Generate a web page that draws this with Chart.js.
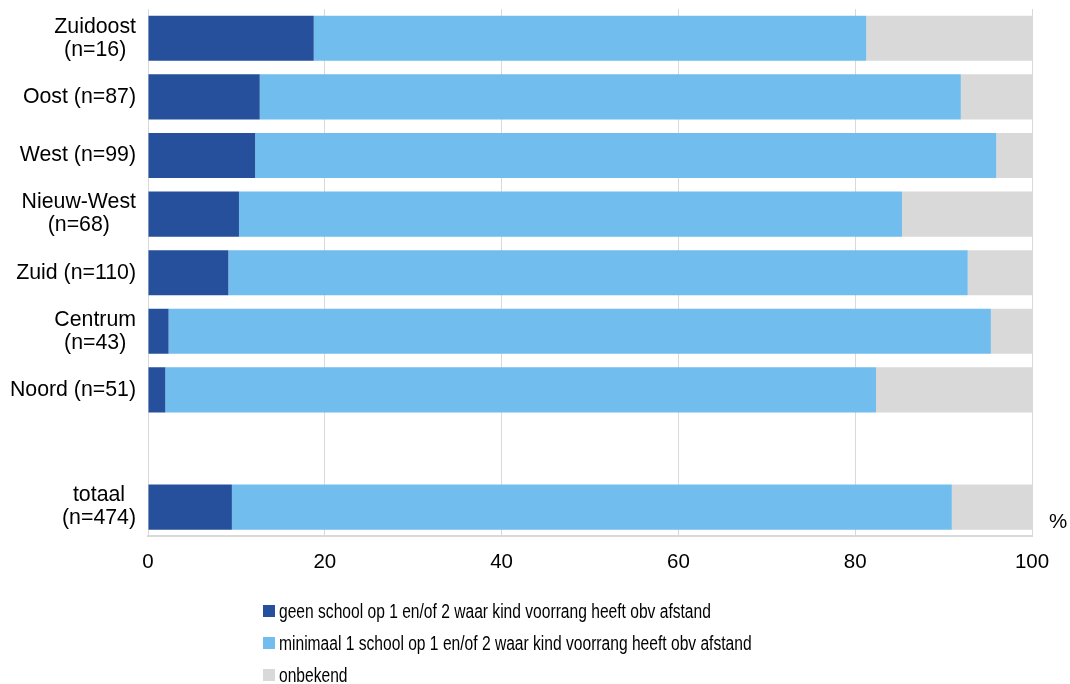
<!DOCTYPE html>
<html lang="nl">
<head>
<meta charset="UTF-8">
<title>Voorrang obv afstand per stadsdeel</title>
<script src="https://cdn.jsdelivr.net/npm/chart.js"></script>
<style>
  body { margin: 0; background: #fff; }
  #wrap { position: relative; width: 1070px; height: 684px; }
  #legend { position: absolute; left: 263px; top: 595px; font-family: 'Liberation Sans', Arial, sans-serif; font-size: 20px; color: #000; }
  .item { height: 32px; display: flex; align-items: center; white-space: nowrap; }
  .box { width: 12px; height: 12px; margin-right: 4px; flex: none; }
  .txt { display: inline-block; transform: scaleX(0.78); transform-origin: left center; }
</style>
</head>
<body>
<div id="wrap">
  <canvas id="chart" width="1070" height="684"></canvas>
  <div id="legend"></div>
</div>
<script>
// stadsdelen, lege regel tussen Noord en totaal
const categories = [
  ['Zuidoost', '(n=16)'],
  ['Oost (n=87)'],
  ['West (n=99)'],
  ['Nieuw-West', '(n=68)'],
  ['Zuid (n=110)'],
  ['Centrum', '(n=43)'],
  ['Noord (n=51)'],
  [''],
  ['totaal', '(n=474)']
];
const geenSchool = [18.75, 12.64, 12.12, 10.29, 9.09, 2.33, 1.96, null, 9.49];
const minimaal1 = [62.5, 79.31, 83.84, 75.0, 83.64, 93.02, 80.39, null, 81.44];
const onbekend = [18.75, 8.05, 4.04, 14.71, 7.27, 4.65, 17.65, null, 9.07];
const seriesNames = [
  'geen school op 1 en/of 2 waar kind voorrang heeft obv afstand',
  'minimaal 1 school op 1 en/of 2 waar kind voorrang heeft obv afstand',
  'onbekend'
];
const seriesColors = ['#26509B', '#71BDED', '#D9D9D9'];
const xTicks = [0, 20, 40, 60, 80, 100];

const FONT = "'Liberation Sans', Arial, sans-serif";

// y labels: block right aligned, lines centred within the block
const yLabelPlugin = {
  id: 'yLabels',
  afterDraw(chart) {
    const ctx = chart.ctx;
    const y = chart.scales.y;
    ctx.save();
    ctx.font = '21.3px ' + FONT;
    ctx.fillStyle = '#000';
    ctx.textAlign = 'center';
    ctx.textBaseline = 'middle';
    const right = 136, lh = 23;
    categories.forEach((lines, i) => {
      if (!lines[0]) return;
      const maxW = Math.max(...lines.map(l => ctx.measureText(l).width));
      const cx = right - maxW / 2;
      const cy = y.getPixelForValue(i);
      lines.forEach((l, k) => {
        ctx.fillText(l, cx, cy + (k - (lines.length - 1) / 2) * lh);
      });
    });
    // eenheid rechts onder
    ctx.font = '20.5px ' + FONT;
    ctx.textAlign = 'left';
    ctx.fillText('%', chart.chartArea.right + 17, chart.chartArea.bottom - 14);
    ctx.restore();
  }
};

new Chart(document.getElementById('chart'), {
  type: 'bar',
  data: {
    labels: categories.map(c => c.join(' ')),
    datasets: [
      { label: seriesNames[0], data: geenSchool, backgroundColor: seriesColors[0] },
      { label: seriesNames[1], data: minimaal1, backgroundColor: seriesColors[1] },
      { label: seriesNames[2], data: onbekend, backgroundColor: seriesColors[2] }
    ]
  },
  options: {
    indexAxis: 'y',
    responsive: false,
    animation: false,
    datasets: { bar: { barPercentage: 0.77, categoryPercentage: 1 } },
    layout: { padding: { left: 0, right: 38, top: 9, bottom: 95 } },
    plugins: { legend: { display: false }, tooltip: { enabled: false } },
    scales: {
      x: {
        stacked: true,
        min: 0, max: 100,
        afterBuildTicks: s => { s.ticks = xTicks.map(v => ({ value: v })); },
        grid: { color: '#D9D9D9', lineWidth: 1, drawTicks: false },
        border: { display: true, color: '#D9D9D9', width: 2 },
        ticks: { color: '#000', padding: 14, font: { family: FONT, size: 20.5 } }
      },
      y: {
        stacked: true,
        grid: { display: false },
        border: { display: true, color: '#D9D9D9', width: 1 },
        ticks: { display: false },
        afterFit: s => { s.width = 148; }
      }
    }
  },
  plugins: [yLabelPlugin]
});

// legenda onder de grafiek
const legend = document.getElementById('legend');
seriesNames.forEach((name, i) => {
  const row = document.createElement('div');
  row.className = 'item';
  row.innerHTML = `<span class="box" style="background:${seriesColors[i]}"></span><span class="txt">${name}</span>`;
  legend.appendChild(row);
});
</script>
</body>
</html>
